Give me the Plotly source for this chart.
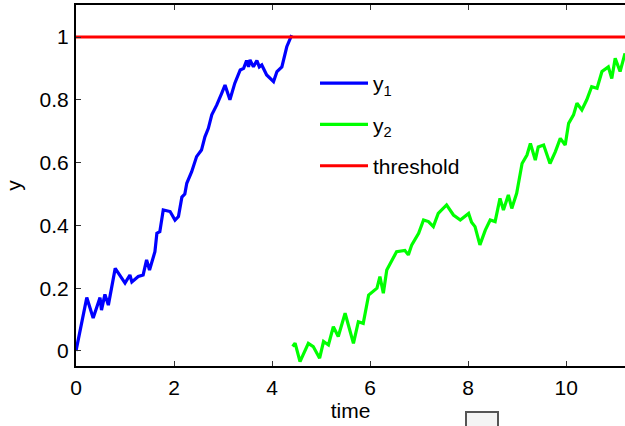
import plotly.graph_objects as go

# ---- data ----
y1_time = [0, 0.22, 0.35, 0.49, 0.52, 0.59, 0.66, 0.8, 1.0, 1.1, 1.14, 1.27, 1.37, 1.44, 1.5,
           1.61, 1.65, 1.71, 1.78, 1.92, 2.02, 2.09, 2.16, 2.22, 2.26, 2.36, 2.46, 2.56, 2.63,
           2.70, 2.77, 2.87, 2.97, 3.04, 3.14, 3.24, 3.35, 3.42, 3.48, 3.52, 3.55, 3.62, 3.69,
           3.74, 3.79, 3.89, 4.03, 4.10, 4.20, 4.30, 4.40]
y1_vals = [0, 0.17, 0.105, 0.17, 0.13, 0.18, 0.146, 0.263, 0.216, 0.242, 0.22, 0.237, 0.242,
           0.29, 0.258, 0.316, 0.375, 0.38, 0.449, 0.444, 0.417, 0.428, 0.49, 0.5, 0.534, 0.571,
           0.619, 0.64, 0.682, 0.709, 0.752, 0.783, 0.82, 0.847, 0.80, 0.853, 0.895, 0.90, 0.925,
           0.905, 0.927, 0.905, 0.925, 0.905, 0.911, 0.879, 0.858, 0.89, 0.905, 0.969, 1.006]

y2_time = [4.42, 4.47, 4.57, 4.74, 4.84, 4.97, 5.05, 5.15, 5.25, 5.35, 5.49, 5.66, 5.76, 5.86,
           5.97, 6.14, 6.20, 6.27, 6.34, 6.48, 6.54, 6.71, 6.78, 6.85, 6.99, 7.09, 7.19, 7.29,
           7.39, 7.56, 7.70, 7.84, 8.01, 8.07, 8.14, 8.24, 8.35, 8.45, 8.55, 8.65, 8.72, 8.82,
           8.89, 8.99, 9.10, 9.20, 9.27, 9.37, 9.43, 9.54, 9.67, 9.78, 9.88, 9.98, 10.05, 10.15,
           10.22, 10.32, 10.42, 10.52, 10.63, 10.73, 10.86, 10.93, 11.0, 11.10, 11.2]
y2_vals = [0.014, 0.025, -0.034, 0.024, 0.014, -0.023, 0.03, 0.019, 0.077, 0.046, 0.12, 0.024,
           0.093, 0.088, 0.178, 0.20, 0.237, 0.184, 0.258, 0.30, 0.316, 0.32, 0.306, 0.338, 0.375,
           0.417, 0.412, 0.396, 0.438, 0.465, 0.433, 0.417, 0.438, 0.41, 0.396, 0.338, 0.385,
           0.417, 0.412, 0.486, 0.449, 0.497, 0.454, 0.502, 0.597, 0.624, 0.661, 0.608, 0.65,
           0.656, 0.597, 0.635, 0.677, 0.656, 0.725, 0.752, 0.789, 0.768, 0.80, 0.842, 0.837,
           0.89, 0.905, 0.868, 0.932, 0.89, 0.948]

threshold_time = [0, 11.2]
threshold_vals = [1, 1]

x_tick_vals = [0, 2, 4, 6, 8, 10]
x_tick_text = ["0", "2", "4", "6", "8", "10"]
y_tick_vals = [0, 0.2, 0.4, 0.6, 0.8, 1]
y_tick_text = ["0", "0.2", "0.4", "0.6", "0.8", "1"]

FONT = "Liberation Sans, Arial, Helvetica, sans-serif"

fig = go.Figure()
fig.add_trace(go.Scatter(x=y1_time, y=y1_vals, mode="lines", name="y<sub>1</sub>",
                         legendgroup="a", line=dict(color="#0000ff", width=3.2)))
fig.add_trace(go.Scatter(x=y2_time, y=y2_vals, mode="lines", name="y<sub>2</sub>",
                         legendgroup="b", line=dict(color="#00ff00", width=3.2)))
fig.add_trace(go.Scatter(x=threshold_time, y=threshold_vals, mode="lines", name="threshold",
                         legendgroup="c", line=dict(color="#ff0000", width=3)))

fig.update_layout(
    width=625, height=426,
    margin=dict(l=76, r=0, t=5, b=60),
    paper_bgcolor="white", plot_bgcolor="white",
    font=dict(family=FONT, size=21, color="black"),
    showlegend=True,
    legend=dict(x=(315 - 76) / 549, y=(366 - 63) / 361, xanchor="left", yanchor="top",
                bgcolor="rgba(0,0,0,0)", borderwidth=0, tracegroupgap=11,
                itemwidth=48, font=dict(size=21)),
    xaxis=dict(range=[0, 11.2], tickvals=x_tick_vals, ticktext=x_tick_text,
               showgrid=False, zeroline=False, showline=True, linecolor="black",
               linewidth=2, mirror="ticks", ticks="inside", ticklen=5, tickwidth=1,
               tickcolor="#333", ticklabelstandoff=2,
               title=dict(text="time", standoff=1, font=dict(size=21))),
    yaxis=dict(range=[-0.048, 1.102], tickvals=y_tick_vals, ticktext=y_tick_text,
               showgrid=False, zeroline=False, showline=True, linecolor="black",
               linewidth=2, ticks="inside", ticklen=5, tickwidth=1, tickcolor="#333",
               ticklabelstandoff=1,
               title=dict(text="y", standoff=12, font=dict(size=21))),
    shapes=[dict(type="rect", xref="paper", yref="paper",
                 x0=(466 - 76) / 549, x1=(498 - 76) / 549,
                 y0=(366 - 440) / 361, y1=(366 - 412) / 361,
                 line=dict(color="#555", width=2), fillcolor="#f4f4f4", layer="above")],
)

fig.write_html("out.html", config={"displayModeBar": False},
               post_script="document.body.style.margin='0px';document.body.style.overflow='hidden';")
